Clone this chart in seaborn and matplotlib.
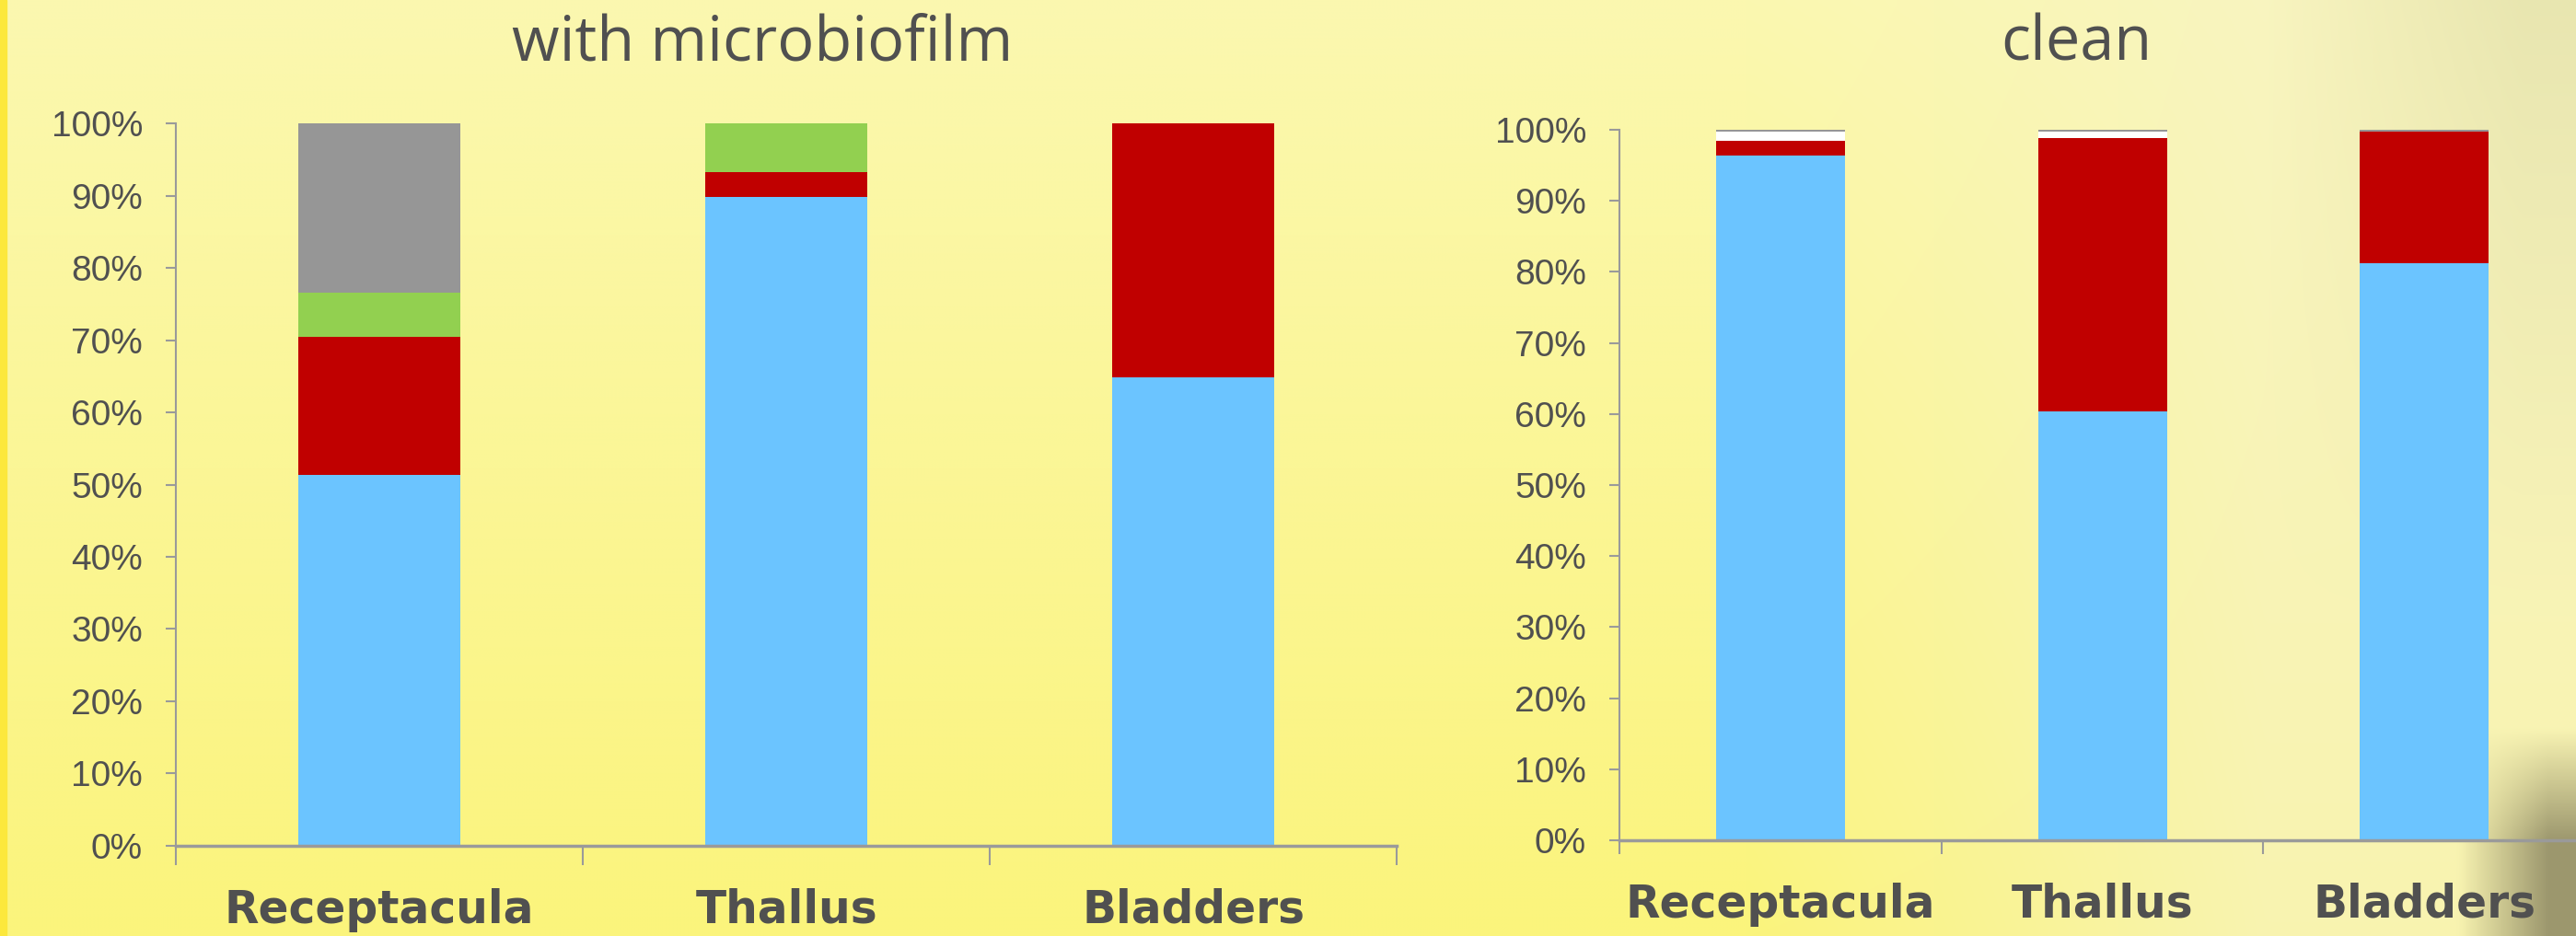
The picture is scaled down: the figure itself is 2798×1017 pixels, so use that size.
"""Stacked composition bars: biofilm-covered vs clean algal parts."""

import matplotlib

matplotlib.use("Agg")
import matplotlib.pyplot as plt
import numpy as np
import pandas as pd
import seaborn as sns
from matplotlib.ticker import FixedLocator

PARTS = ["Receptacula", "Thallus", "Bladders"]
SERIES = ["blue", "red", "green", "white", "grey"]
COLORS = {
    "blue": "#6BC4FF", "red": "#C00000", "green": "#92D050",
    "white": "#FFFFFF", "grey": "#969696",
}

# percent of total, bottom to top
BIOFILM_BLUE = [51.4, 89.8, 64.8]
BIOFILM_RED = [19.1, 3.4, 35.2]
BIOFILM_GREEN = [6.1, 6.8, 0.0]
BIOFILM_WHITE = [0.0, 0.0, 0.0]
BIOFILM_GREY = [23.4, 0.0, 0.0]

CLEAN_BLUE = [96.4, 60.4, 81.2]
CLEAN_RED = [2.0, 38.4, 18.6]
CLEAN_GREEN = [0.0, 0.0, 0.0]
CLEAN_WHITE = [1.4, 1.0, 0.0]
CLEAN_GREY = [0.2, 0.2, 0.2]

Y_TICKS = list(range(0, 101, 10))
TEXT = "#505050"
AXIS = "#9A9A9A"


def make_table(blue, red, green, white, grey) -> pd.DataFrame:
    wide = pd.DataFrame(
        {"blue": blue, "red": red, "green": green, "white": white, "grey": grey},
        index=PARTS,
    )
    tops = wide[SERIES].cumsum(axis=1)
    long = tops.reset_index(names="part").melt(
        id_vars="part", var_name="series", value_name="top"
    )
    return long


def draw_panel(ax, table: pd.DataFrame, tick_len: float, label_pad: float) -> None:
    # overlapping cumulative bars, top series first
    for name in reversed(SERIES):
        sub = table[table["series"] == name]
        sns.barplot(
            data=sub, x="part", y="top", order=PARTS, color=COLORS[name],
            width=0.4, saturation=1, errorbar=None, ax=ax,
            linewidth=0, zorder=2,
        )
    ax.set_xlim(-0.5, 2.5)
    ax.set_ylim(0, 100)
    ax.set_facecolor("none")
    ax.set_xlabel("")
    ax.set_ylabel("")
    ax.set_yticks(Y_TICKS)
    ax.set_yticklabels([f"{v}%" for v in Y_TICKS])
    ax.xaxis.set_minor_locator(FixedLocator([-0.5, 0.5, 1.5, 2.5]))
    ax.tick_params(axis="x", which="major", bottom=True, length=0,
                   pad=label_pad)
    ax.tick_params(axis="x", which="minor", bottom=True, length=tick_len,
                   width=1.5, color=AXIS)
    ax.tick_params(axis="y", left=True, length=8, width=1.5, color=AXIS,
                   pad=18, labelsize=28, labelcolor=TEXT)
    for label in ax.get_yticklabels():
        label.set_fontfamily("Liberation Sans")
    for label in ax.get_xticklabels():
        label.set_fontfamily("DejaVu Sans")
        label.set_fontweight("bold")
        label.set_fontsize(35)
        label.set_color(TEXT)
    for side in ("top", "right"):
        ax.spines[side].set_visible(False)
    ax.spines["left"].set_color(AXIS)
    ax.spines["left"].set_linewidth(1.5)
    ax.spines["bottom"].set_color(AXIS)
    ax.spines["bottom"].set_linewidth(2.5)
    ax.grid(False)


def background(fig) -> None:
    h, w = 254, 700
    yy = np.linspace(0, 1, h)[:, None, None]
    xx = np.linspace(0, 1, w)[None, :, None]
    top = np.array([251, 248, 176]) / 255
    bottom = np.array([251, 244, 124]) / 255
    img = top * (1 - yy) + bottom * yy
    img = np.broadcast_to(img, (h, w, 3)).copy()
    pale = np.array([247, 243, 198]) / 255
    wp = np.clip((xx - 0.68) / 0.2, 0, 1) * 0.7
    img = img * (1 - wp) + pale * wp
    olive = np.array([226, 224, 170]) / 255
    wo = np.clip((xx - 0.88) / 0.1, 0, 1) * np.clip(1 - yy * 1.5, 0, 1) * 0.7
    img = img * (1 - wo) + olive * wo
    dark = np.array([140, 135, 98]) / 255
    wd = (np.clip((xx - 0.955) / 0.035, 0, 1)
          * np.clip((yy - 0.78) / 0.12, 0, 1) * 0.85)
    img = img * (1 - wd) + dark * wd
    bg = fig.add_axes([0, 0, 1, 1], zorder=-10)
    bg.imshow(img, aspect="auto", extent=[0, 1, 0, 1], interpolation="bicubic")
    bg.add_patch(plt.Rectangle((0, 0), 7 / 2798, 1, color="#FCE83C",
                               transform=bg.transAxes))
    bg.set_axis_off()


def main() -> None:
    sns.set_theme(style="white")
    fig = plt.figure(figsize=(27.98, 10.17), dpi=100)
    background(fig)

    left = fig.add_axes([0.0683, 0.0964, 0.4739, 0.7718])
    right = fig.add_axes([0.6287, 0.1023, 0.3749, 0.7591])

    draw_panel(left, make_table(BIOFILM_BLUE, BIOFILM_RED, BIOFILM_GREEN,
                                BIOFILM_WHITE, BIOFILM_GREY), 15, 33)
    draw_panel(right, make_table(CLEAN_BLUE, CLEAN_RED, CLEAN_GREEN,
                                 CLEAN_WHITE, CLEAN_GREY), 11, 33)

    title_kw = dict(fontsize=48, color=TEXT, family="Open Sans",
                    fontweight="normal", ha="center", va="baseline")
    fig.text(828 / 2798, 1 - 66 / 1017, "with microbiofilm", **title_kw)
    fig.text(2255 / 2798, 1 - 66 / 1017, "clean", **title_kw)

    fig.savefig("out.png", dpi=100)
    plt.close(fig)


if __name__ == "__main__":
    main()
